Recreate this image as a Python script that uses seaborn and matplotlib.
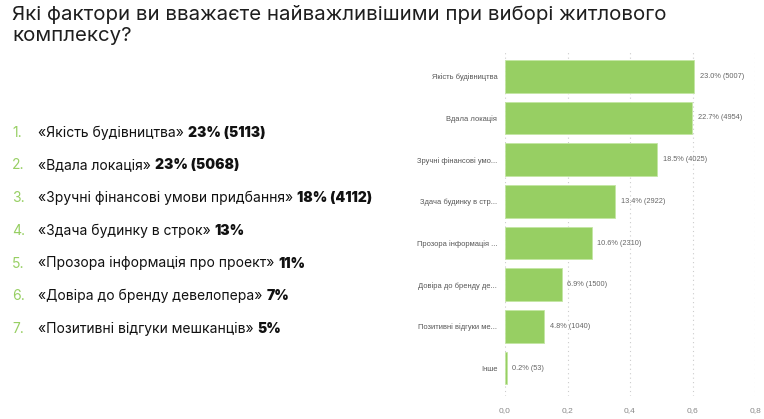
import matplotlib
matplotlib.use("Agg")
import matplotlib.pyplot as plt
import seaborn as sns
import pandas as pd

# chart data
labels = ["Якість будівництва", "Вдала локація", "Зручні фінансові умо...",
          "Здача будинку в стр...", "Прозора інформація ...", "Довіра до бренду де...",
          "Позитивні відгуки ме...", "Інше"]
shares = [0.606, 0.599, 0.487, 0.353, 0.278, 0.181, 0.125, 0.0055]
percents = [23.0, 22.7, 18.5, 13.4, 10.6, 6.9, 4.8, 0.2]
counts = [5007, 4954, 4025, 2922, 2310, 1500, 1040, 53]
x_ticks = [0.0, 0.2, 0.4, 0.6, 0.8]

# list on the left
list_names = ["«Якість будівництва»", "«Вдала локація»", "«Зручні фінансові умови придбання»",
              "«Здача будинку в строк»", "«Прозора інформація про проект»",
              "«Довіра до бренду девелопера»", "«Позитивні відгуки мешканців»"]
list_values = ["23% (5113)", "23% (5068)", "18% (4112)", "13%", "11%", "7%", "5%"]

title = "Які фактори ви вважаєте найважливішими при виборі житлового\nкомплексу?"

green = "#97cf63"
small_font = ['Liberation Sans', 'DejaVu Sans']

sns.set_theme(style="white")
plt.rcParams['font.family'] = ['Inter', 'DejaVu Sans']

df = pd.DataFrame({"label": labels, "share": shares})

fig = plt.figure(figsize=(7.64, 4.19), dpi=100)
ax = fig.add_axes([505 / 764, 1 - 396 / 419, 250 / 764, 346 / 419])

sns.barplot(data=df, x="share", y="label", color=green, width=0.78,
            edgecolor="#c4e6a4", linewidth=0.6, saturation=1, ax=ax)
ax.set_xlim(0, 0.8)
ax.set_ylim(7.67, -0.63)
ax.set_xlabel("")
ax.set_ylabel("")
for s in ax.spines.values():
    s.set_visible(False)

ax.set_xticks(x_ticks)
ax.set_xticklabels([f"{t:.1f}".replace(".", ",") for t in x_ticks], fontsize=6,
                   color="#888888", family=small_font)
ax.tick_params(axis="x", length=0, pad=8)
ax.tick_params(axis="y", length=0, pad=5.5)
for lbl in ax.get_yticklabels():
    lbl.set_family(small_font)
    lbl.set_fontsize(5.4)
    lbl.set_color("#555555")
ax.grid(axis="x", color="#cccccc", linestyle=(0, (1, 3)), linewidth=0.8)
ax.set_axisbelow(True)

bar_texts = [f"{p:.1f}% ({c})" for p, c in zip(percents, counts)]
ax.bar_label(ax.containers[0], labels=bar_texts, padding=4, fontsize=5.3,
             color="#666666", family=small_font)

fig.text(12 / 764, 1 - 5 / 419, title, fontsize=14.7, color="#1e1e1e", va="top",
         ha="left", linespacing=1.2)

renderer = fig.canvas.get_renderer()
for i, (name, val) in enumerate(zip(list_names, list_values)):
    y = 1 - (136.7 + i * 32.7) / 419
    fig.text(12 / 764, y, f"{i + 1}.", fontsize=10, color=green, va="baseline")
    t = fig.text(38 / 764, y, name + " ", fontsize=10, color="#111111", va="baseline")
    bb = t.get_window_extent(renderer)
    fig.text(bb.x1 / fig.bbox.width, y, val, fontsize=10, color="#111111",
             fontweight="black", va="baseline")

fig.savefig("out.png", dpi=100)
